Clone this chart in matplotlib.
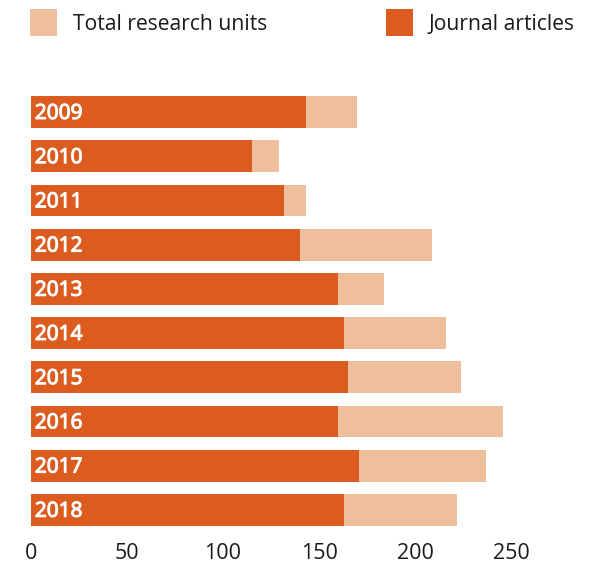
import matplotlib.pyplot as plt
import matplotlib.patheffects as pe
from matplotlib.patches import Rectangle

plt.rcParams["font.family"] = ["Open Sans", "DejaVu Sans"]

years = ["2009", "2010", "2011", "2012", "2013", "2014", "2015", "2016", "2017", "2018"]
total_units = [170, 129, 143, 209, 184, 216, 224, 246, 237, 222]
journal_articles = [143, 115, 132, 140, 160, 163, 165, 160, 171, 163]

LIGHT = "#EFBE9C"
DARK = "#DC5B1F"
TEXT = "#1a1a1a"

W, H = 591, 568
fig = plt.figure(figsize=(W / 100, H / 100), dpi=100)

# axes placed in pixel terms: zero at x=31, 1.92 px per unit
ax = fig.add_axes([31 / W, (H - 532) / H, 270 * 1.92 / W, 442 / H])
pos = range(len(years))
ax.barh(pos, total_units, height=0.72, color=LIGHT, linewidth=0)
ax.barh(pos, journal_articles, height=0.72, color=DARK, linewidth=0)
# no normal-width semibold installed: thicken the regular face a little
semibold = [pe.withStroke(linewidth=0.8, foreground="white")]
for i, y in enumerate(years):
    ax.text(2, i + 0.03, y, color="white", fontsize=15,
            path_effects=semibold, va="center", ha="left")

ax.set_xlim(0, 270)
ax.set_ylim(len(years) - 0.5, -0.5)
ax.set_xticks([0, 50, 100, 150, 200, 250])
ax.set_yticks([])
ax.tick_params(axis="x", length=0, pad=8, labelsize=15.5, labelcolor=TEXT)
for s in ax.spines.values():
    s.set_visible(False)

# legend drawn by hand
def legend_item(x, label, color):
    fig.add_artist(Rectangle((x / W, (H - 36) / H), 27 / W, 27 / H,
                             transform=fig.transFigure, color=color, lw=0))
    fig.text((x + 43) / W, (H - 24) / H, label, fontsize=15.2, color=TEXT,
             va="center", ha="left")

legend_item(30, "Total research units", LIGHT)
legend_item(386, "Journal articles", DARK)

fig.savefig("out.png", dpi=100)
